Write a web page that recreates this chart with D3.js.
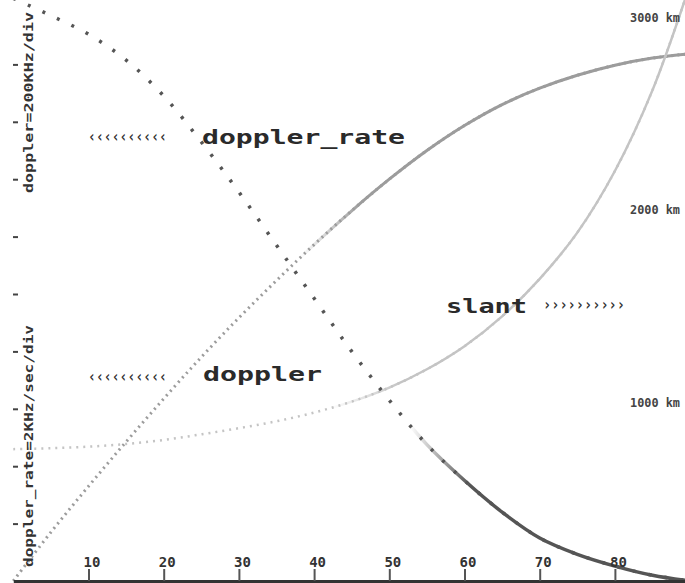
<!DOCTYPE html>
<html>
<head>
<meta charset="utf-8">
<script src="https://cdn.jsdelivr.net/npm/d3@7"></script>
<style>
  html, body { margin: 0; padding: 0; background: #fff; }
  svg { display: block; }
  text { font-family: "DejaVu Sans Mono", monospace; font-weight: bold; }
</style>
</head>
<body>
<script>
// Pass geometry sampled every 5 units along the horizontal axis
const xs = [0, 5, 10, 15, 20, 25, 30, 35, 40, 45, 50, 55, 60, 65, 70, 75, 80, 85, 90];
// Doppler shift, kHz (200 kHz per division)
const dopplerKHz = [0, 170, 330, 485, 635, 780, 917, 1047, 1172, 1290, 1400, 1500, 1587, 1660, 1717, 1762, 1797, 1822, 1837];
// Doppler rate, kHz/s (2 kHz/s per division)
const dopplerRate = [20.3, 19.7, 19.05, 18.15, 16.9, 15.3, 13.55, 11.7, 9.85, 8.0, 6.3, 4.75, 3.5, 2.4, 1.5, 0.93, 0.52, 0.2, 0.0];
// Slant range, km
const slantKm = [755, 760, 768, 782, 803, 832, 864, 900, 945, 1002, 1075, 1170, 1290, 1445, 1640, 1880, 2200, 2620, 3170];

const xTicks = [10, 20, 30, 40, 50, 60, 70, 80];
const divTicks = [1, 2, 3, 4, 5, 6, 7, 8, 9];
const slantTicks = [1000, 2000, 3000];

const W = 685, H = 583;
const svg = d3.select("body").append("svg").attr("width", W).attr("height", H);

const x = d3.scaleLinear().domain([0, 90]).range([13.3, 690.1]);
const yDiv = d3.scaleLinear().domain([0, 10]).range([581, 7]);
const yDoppler = d3.scaleLinear().domain([0, 2000]).range([581, 7]);
const yRate = d3.scaleLinear().domain([0, 20]).range([581, 7]);
const ySlant = d3.scaleLinear().domain([0, 3000]).range([594.5, 17]);

// Fade masks: sparse samples on the left, dense trace on the right
const defs = svg.append("defs");
function fadeMask(id, x0, x1) {
  const g = defs.append("linearGradient").attr("id", id + "-g")
    .attr("gradientUnits", "userSpaceOnUse").attr("x1", x0).attr("x2", x1).attr("y1", 0).attr("y2", 0);
  g.append("stop").attr("offset", 0).attr("stop-color", "#000");
  g.append("stop").attr("offset", 1).attr("stop-color", "#fff");
  defs.append("mask").attr("id", id).attr("maskUnits", "userSpaceOnUse")
    .attr("x", 0).attr("y", 0).attr("width", W).attr("height", H)
    .append("rect").attr("width", W).attr("height", H).attr("fill", `url(#${id}-g)`);
}
fadeMask("m-dop", 300, 360);
fadeMask("m-slant", 330, 400);
fadeMask("m-rate", 410, 470);

function trace(values, yScale, color, dash, width, maskId) {
  const line = d3.line().x((d, i) => x(xs[i])).y(d => yScale(d)).curve(d3.curveCatmullRom.alpha(0.5));
  svg.append("path").attr("d", line(values)).attr("fill", "none")
    .attr("stroke", color).attr("stroke-width", width).attr("stroke-dasharray", dash);
  svg.append("path").attr("d", line(values)).attr("fill", "none")
    .attr("stroke", color).attr("stroke-width", width).attr("mask", `url(#${maskId})`);
}

trace(dopplerKHz, yDoppler, "#9c9c9c", "2 4", 3, "m-dop");
trace(slantKm, ySlant, "#c4c4c4", "2 5", 2.5, "m-slant");
trace(dopplerRate, yRate, "#555", "3 13", 3.5, "m-rate");

// Bottom axis
const xAxis = svg.append("g").attr("transform", "translate(0,581)")
  .call(d3.axisTop(x).tickValues(xTicks).tickSize(12).tickSizeOuter(0).tickPadding(2));
xAxis.select(".domain").attr("stroke", "#333").attr("stroke-width", 3);
xAxis.selectAll(".tick line").attr("stroke", "#555").attr("stroke-width", 2);
xAxis.selectAll(".tick text").attr("fill", "#333").attr("font-size", 14)
  .attr("font-family", "DejaVu Sans Mono").attr("font-weight", "bold").attr("dx", 3);

// Left division ticks
const yAxis = svg.append("g").attr("transform", "translate(13,0)")
  .call(d3.axisRight(yDiv).tickValues(divTicks).tickSize(5).tickFormat(""));
yAxis.select(".domain").remove();
yAxis.selectAll(".tick line").attr("stroke", "#444").attr("stroke-width", 2);

// Scale captions along the left edge
const captions = [
  { t: "doppler=200KHz/div", cy: 102.5, len: 181 },
  { t: "doppler_rate=2KHz/sec/div", cy: 446, len: 242 }
];
svg.selectAll("text.cap").data(captions).join("text").attr("class", "cap")
  .attr("transform", d => `translate(33,${d.cy}) rotate(-90)`)
  .attr("text-anchor", "middle").attr("font-size", 12).attr("fill", "#333")
  .attr("textLength", d => d.len).attr("lengthAdjust", "spacingAndGlyphs")
  .text(d => d.t);

// Slant range labels on the right
svg.selectAll("text.km").data(slantTicks).join("text").attr("class", "km")
  .attr("x", 630).attr("y", d => ySlant(d) + 4.5)
  .attr("font-size", 12).attr("fill", "#444")
  .attr("textLength", 50).attr("lengthAdjust", "spacingAndGlyphs")
  .text(d => d + " km");

// Series names with direction arrows
const names = [
  { t: "doppler_rate", x: 202, y: 143.5, len: 203 },
  { t: "doppler", x: 203, y: 380.5, len: 119 },
  { t: "slant", x: 446, y: 313, len: 81 }
];
svg.selectAll("text.name").data(names).join("text").attr("class", "name")
  .attr("x", d => d.x).attr("y", d => d.y).attr("font-size", 20).attr("fill", "#2a2a2a")
  .attr("textLength", d => d.len).attr("lengthAdjust", "spacingAndGlyphs")
  .text(d => d.t);

const arrows = [
  { t: "\u2039".repeat(10), x: 88, y: 142, len: 79 },
  { t: "\u2039".repeat(10), x: 88, y: 382, len: 79 },
  { t: "\u203A".repeat(10), x: 543, y: 310, len: 82 }
];
svg.selectAll("text.arrow").data(arrows).join("text").attr("class", "arrow")
  .attr("x", d => d.x).attr("y", d => d.y).attr("font-size", 15).attr("fill", "#333")
  .attr("textLength", d => d.len).attr("lengthAdjust", "spacingAndGlyphs")
  .text(d => d.t);
</script>
</body>
</html>
